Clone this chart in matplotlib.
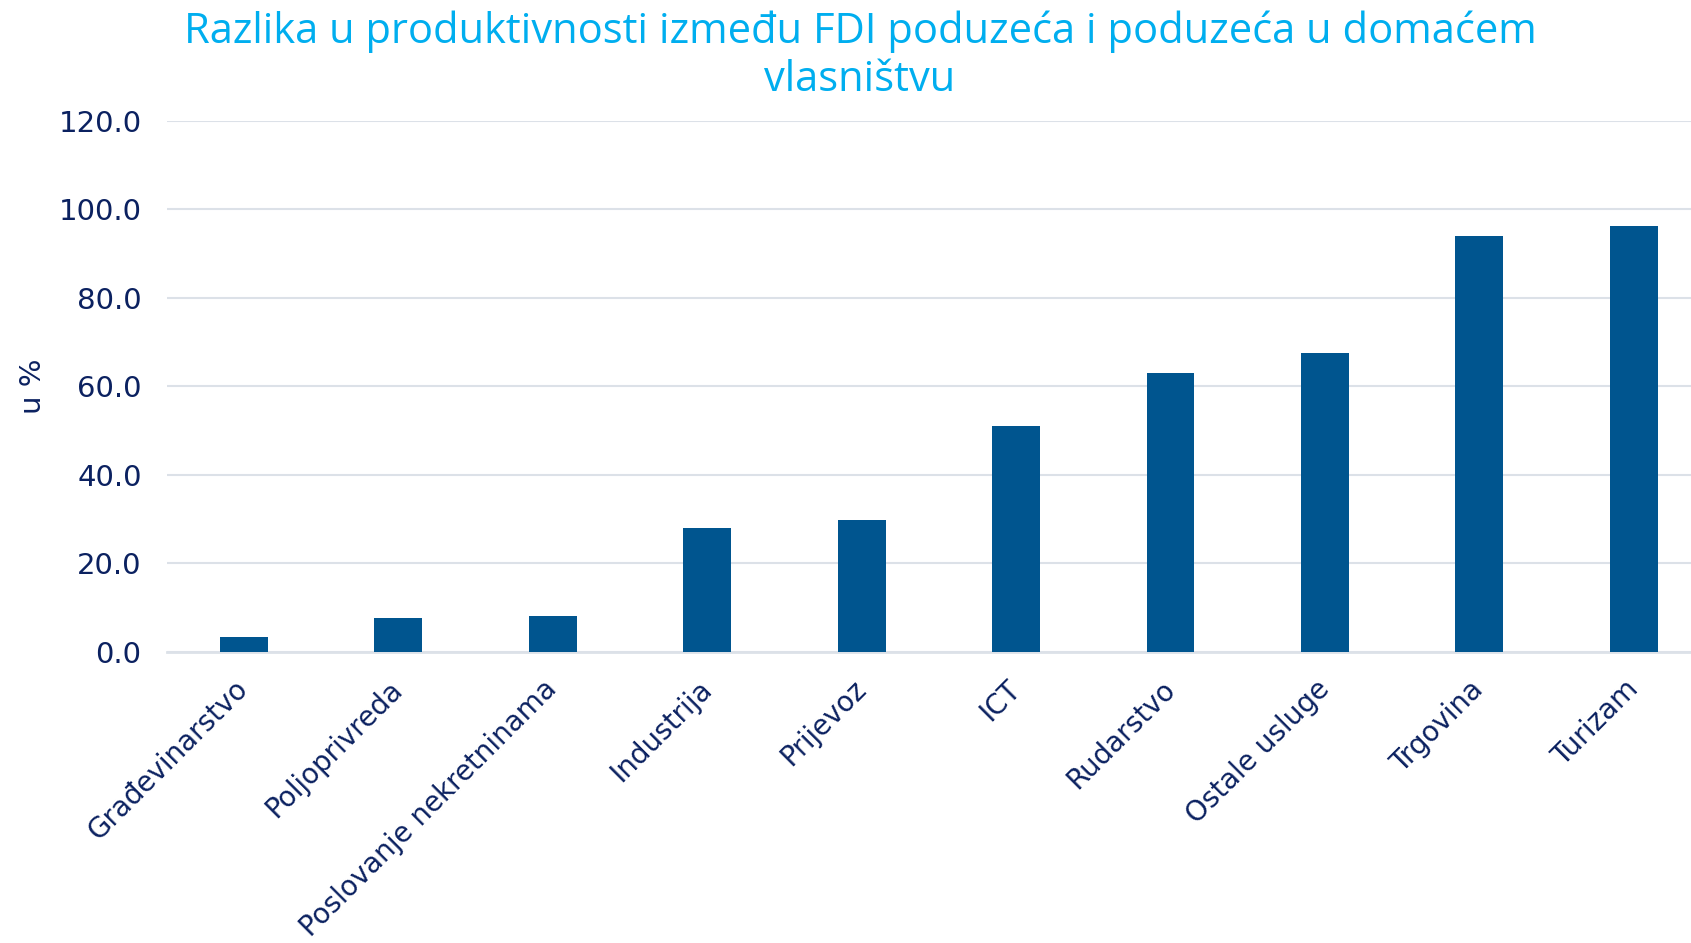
import numpy as np
import matplotlib
matplotlib.use("Agg")
import matplotlib.pyplot as plt

categories = ["Građevinarstvo", "Poljoprivreda", "Poslovanje nekretninama",
              "Industrija", "Prijevoz", "ICT", "Rudarstvo", "Ostale usluge",
              "Trgovina", "Turizam"]
values = [3.4, 7.6, 8.0, 28.0, 29.8, 51.0, 62.9, 67.6, 93.9, 96.3]
yticks = [0, 20, 40, 60, 80, 100, 120]

title = "Razlika u produktivnosti između FDI poduzeća i poduzeća u domaćem\nvlasništvu"

navy = "#0B2160"
bar_color = "#00558F"
grid_color = "#DCE1E8"

plt.rcParams["font.family"] = ["DejaVu Sans"]

fig = plt.figure(figsize=(16.91, 9.43), dpi=100)
# the plot area runs past the right edge of the picture, as in the original
ax = fig.add_axes([0.0985, 0.309, 0.9134, 0.563])

x = np.arange(len(categories))
ax.bar(x, values, width=0.31, color=bar_color, zorder=3)

ax.set_xlim(-0.5, len(categories) - 0.5)
ax.set_ylim(0, 120)
ax.set_yticks(yticks)
ax.set_yticklabels([f"{v:.1f}" for v in yticks], fontsize=21, color=navy)
ax.set_xticks(x)
ax.set_xticklabels(categories, fontsize=20, color=navy, rotation=45,
                   ha="right", va="center", rotation_mode="anchor")
ax.tick_params(axis="x", length=0, pad=24)
ax.tick_params(axis="y", length=0, pad=18)

ax.grid(axis="y", color=grid_color, linewidth=1.5, zorder=0)
for s in ["top", "right", "left"]:
    ax.spines[s].set_visible(False)
ax.spines["bottom"].set_color(grid_color)
ax.spines["bottom"].set_linewidth(2)

ax.set_ylabel("u %", fontsize=21, color=navy, labelpad=8)

fig.text(0.5086, 0.989, title, ha="center", va="top", fontsize=30,
         color="#00AEEF", family="Open Sans", linespacing=1.2)

fig.savefig("out.png", dpi=100)
